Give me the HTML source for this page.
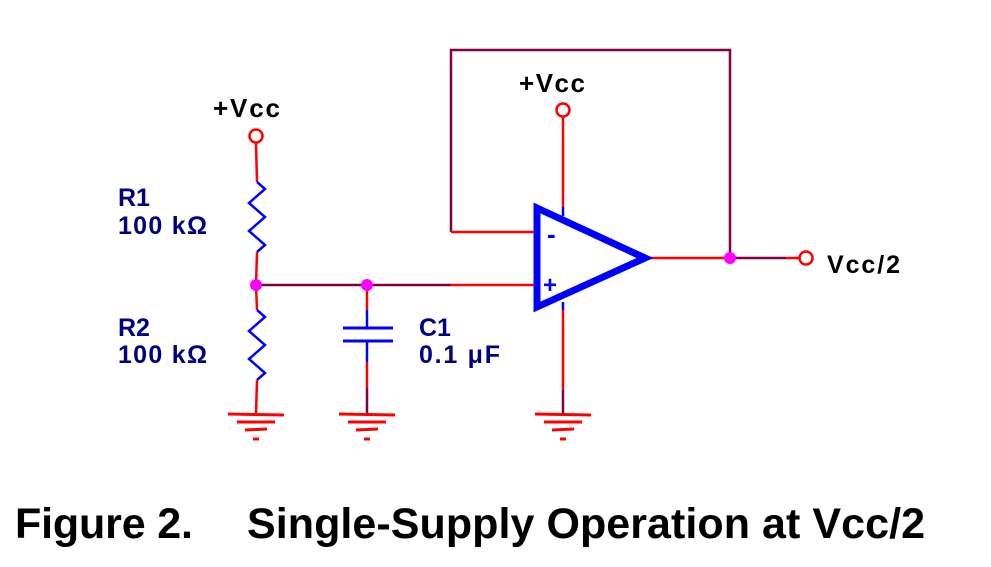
<!DOCTYPE html>
<html><head><style>body{margin:0;background:#fff}svg{display:block}</style></head><body>
<svg width="991" height="567" viewBox="0 0 991 567" xmlns="http://www.w3.org/2000/svg" font-family="Liberation Sans, sans-serif" font-weight="bold">
<defs>
<g id="gnd" stroke="#f00" stroke-width="3">
<line x1="-28" y1="0" x2="28" y2="1"/><line x1="-19" y1="8" x2="19" y2="8"/><line x1="-11" y1="16" x2="11" y2="15"/><line x1="-3" y1="25" x2="3" y2="25"/>
</g>
</defs>
<polyline points="451,232 451,50 730,50 730,258" fill="none" stroke="#800040" stroke-width="2.5"/>
<line x1="451" y1="232" x2="534" y2="232" stroke="#f00" stroke-width="2.5"/>
<line x1="256" y1="285" x2="451" y2="285" stroke="#800040" stroke-width="2.5"/>
<line x1="451" y1="285" x2="534" y2="285" stroke="#f00" stroke-width="2.5"/>
<line x1="647" y1="258" x2="730" y2="258" stroke="#f00" stroke-width="2.5"/>
<line x1="730" y1="258" x2="786" y2="258" stroke="#800040" stroke-width="2.5"/>
<line x1="786" y1="258" x2="800" y2="258" stroke="#f00" stroke-width="2.5"/>
<circle cx="806" cy="258" r="6.5" fill="#fff" stroke="#f00" stroke-width="2.5"/>
<circle cx="563" cy="110" r="6.5" fill="#fff" stroke="#f00" stroke-width="2.5"/>
<line x1="563" y1="117" x2="563" y2="207" stroke="#f00" stroke-width="2.5"/>
<line x1="563" y1="207" x2="563" y2="216" stroke="#00f" stroke-width="2.5"/>
<line x1="563" y1="302" x2="563" y2="310" stroke="#00f" stroke-width="2.5"/>
<line x1="563" y1="310" x2="563" y2="390" stroke="#f00" stroke-width="2.5"/>
<line x1="563" y1="390" x2="563" y2="414" stroke="#800040" stroke-width="2.5"/>
<use href="#gnd" x="563" y="414"/>
<polygon points="537,208 645,258 537,307" fill="#fff" stroke="#00f" stroke-width="7" stroke-linejoin="miter"/>
<text x="547" y="243" fill="#00f" font-size="26">-</text>
<text x="543" y="293" fill="#00f" font-size="24">+</text>
<circle cx="256" cy="136" r="6.5" fill="#fff" stroke="#f00" stroke-width="2.5"/>
<line x1="256" y1="143" x2="257" y2="182" stroke="#f00" stroke-width="2.5"/>
<polyline points="257,182 265,189 249,203 265,217 249,231 265,245 257,252" fill="none" stroke="#00f" stroke-width="2.5"/>
<line x1="257" y1="252" x2="256" y2="285" stroke="#f00" stroke-width="2.5"/>
<line x1="256" y1="285" x2="257" y2="310" stroke="#f00" stroke-width="2.5"/>
<polyline points="257,310 265,317 249,331 265,345 249,359 265,373 257,380" fill="none" stroke="#00f" stroke-width="2.5"/>
<line x1="257" y1="380" x2="256" y2="414" stroke="#f00" stroke-width="2.5"/>
<use href="#gnd" x="256" y="414"/>
<line x1="367" y1="285" x2="367" y2="310" stroke="#f00" stroke-width="2.5"/>
<line x1="367" y1="310" x2="367" y2="328" stroke="#00f" stroke-width="2.5"/>
<line x1="343" y1="328" x2="393" y2="328" stroke="#00f" stroke-width="3"/>
<line x1="343" y1="341" x2="393" y2="341" stroke="#00f" stroke-width="3"/>
<line x1="367" y1="341" x2="367" y2="362" stroke="#00f" stroke-width="2.5"/>
<line x1="367" y1="362" x2="367" y2="388" stroke="#f00" stroke-width="2.5"/>
<line x1="367" y1="388" x2="367" y2="414" stroke="#800040" stroke-width="2.5"/>
<use href="#gnd" x="367" y="414"/>
<circle cx="256" cy="285" r="6" fill="#f0f"/>
<circle cx="367" cy="285" r="6" fill="#f0f"/>
<circle cx="730" cy="258" r="6" fill="#f0f"/>
<text x="213" y="117" font-size="26" fill="#000" textLength="67">+Vcc</text>
<text x="519" y="92" font-size="26" fill="#000" textLength="66">+Vcc</text>
<text x="827" y="273" font-size="25" fill="#000" textLength="73">Vcc/2</text>
<text x="118" y="206" font-size="25" fill="#000080">R1</text>
<text x="118" y="234" font-size="25" fill="#000080" textLength="89">100 kΩ</text>
<text x="118" y="336" font-size="25" fill="#000080">R2</text>
<text x="118" y="363" font-size="25" fill="#000080" textLength="89">100 kΩ</text>
<text x="419" y="336" font-size="25" fill="#000080">C1</text>
<text x="419" y="363" font-size="25" fill="#000080" textLength="81">0.1 μF</text>
<text x="15" y="538" font-size="43" fill="#000" textLength="178">Figure 2.</text>
<text x="247" y="538" font-size="43" fill="#000" textLength="678">Single-Supply Operation at Vcc/2</text>
</svg>
</body></html>
